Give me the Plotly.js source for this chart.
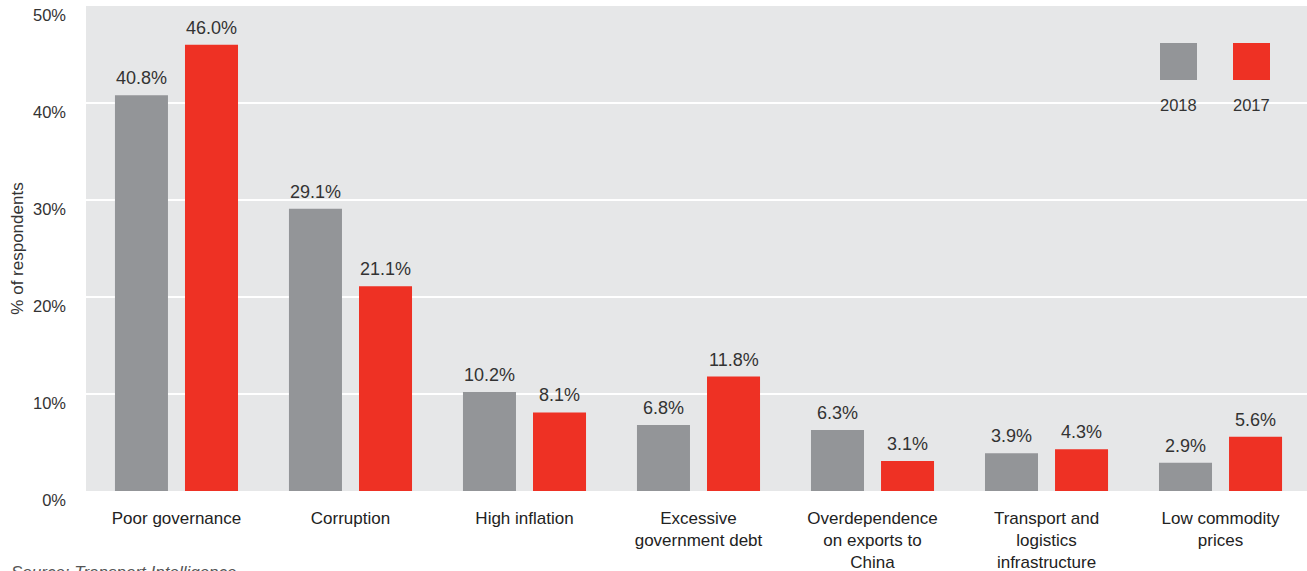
<!DOCTYPE html>
<html>
<head>
<meta charset="utf-8">
<script src="https://cdn.plot.ly/plotly-3.0.1.min.js"></script>
<style>html,body{margin:0;padding:0;background:#fff;}#chart{width:1307px;height:571px;}</style>
</head>
<body>
<div id="chart"></div>
<script>
const categories = [
  "Poor governance",
  "Corruption",
  "High inflation",
  "Excessive<br>government debt",
  "Overdependence<br>on exports to<br>China",
  "Transport and<br>logistics<br>infrastructure",
  "Low commodity<br>prices"
];
const seriesNames = ["2018", "2017"];
const values2018 = [40.8, 29.1, 10.2, 6.8, 6.3, 3.9, 2.9];
const values2017 = [46.0, 21.1, 8.1, 11.8, 3.1, 4.3, 5.6];
const yTickValues = [0, 10, 20, 30, 40, 50];
const yTickLabels = ["0%", "10%", "20%", "30%", "40%", "50%"];
const colors = ["#939598", "#ee3124"];

const FONT = "Liberation Sans, Arial, Helvetica, sans-serif";
const W = 1307, H = 571, ML = 86, MR = 0, MT = 6, MB = 80;
const PW = W - ML - MR, PH = H - MT - MB;
const px = x => (x - ML) / PW;
const py = y => (H - MB - y) / PH;

function barTrace(name, vals, color) {
  return {
    type: "bar", name: name, x: categories, y: vals,
    marker: {color: color, line: {width: 0}},
    hoverinfo: "skip"
  };
}

const data = [
  barTrace(seriesNames[0], values2018, colors[0]),
  barTrace(seriesNames[1], values2017, colors[1])
];

const shapes = [], annotations = [];
// value labels, anchored to each bar top through the axes
[values2018, values2017].forEach((vals, s) => {
  vals.forEach((v, i) => {
    annotations.push({
      xref: "x", yref: "y", x: categories[i], y: v,
      xshift: s === 0 ? -35 : 35, yshift: 5,
      text: v.toFixed(1) + "%", showarrow: false,
      xanchor: "center", yanchor: "bottom",
      font: {family: FONT, size: 18, color: "#333333"}
    });
  });
});
// legend: squares with labels underneath
const legendX = [1160, 1233];
seriesNames.forEach((n, i) => {
  shapes.push({type: "rect", xref: "paper", yref: "paper",
    x0: px(legendX[i]), x1: px(legendX[i] + 37), y0: py(80), y1: py(43),
    fillcolor: colors[i], line: {width: 0}, layer: "above"});
  annotations.push({xref: "paper", yref: "paper", x: px(legendX[i] + 18.5), y: py(105),
    text: n, showarrow: false, xanchor: "center", yanchor: "middle",
    font: {family: FONT, size: 16.5, color: "#333333"}});
});
annotations.push({xref: "paper", yref: "paper", x: px(9), y: py(572),
  text: "<i>Source: Transport Intelligence</i>", showarrow: false,
  xanchor: "left", yanchor: "middle",
  font: {family: FONT, size: 17, color: "#555555"}});

const layout = {
  width: W, height: H,
  margin: {l: ML, r: MR, t: MT, b: MB, pad: 0},
  paper_bgcolor: "#ffffff",
  plot_bgcolor: "#e6e7e8",
  showlegend: false,
  barmode: "group",
  bargap: 0.195,
  bargroupgap: 0.243,
  font: {family: FONT, color: "#333333"},
  xaxis: {
    type: "category",
    range: [-0.52, 6.497],
    showgrid: false, zeroline: false, showline: false,
    ticks: "", tickfont: {family: FONT, size: 17, color: "#222222"},
    ticklabelstandoff: 15
  },
  yaxis: {
    range: [0, 50],
    tickvals: yTickValues, ticktext: yTickLabels,
    showgrid: true, gridcolor: "#ffffff", gridwidth: 2,
    zeroline: false, showline: false, ticks: "",
    tickfont: {family: FONT, size: 16.5, color: "#333333"},
    ticklabelstandoff: 19,
    ticklabelshift: 9,
    title: {text: "% of respondents", font: {family: FONT, size: 17, color: "#333333"}, standoff: 5}
  },
  shapes: shapes,
  annotations: annotations
};

Plotly.newPlot("chart", data, layout, {displayModeBar: false, staticPlot: true});
</script>
</body>
</html>
